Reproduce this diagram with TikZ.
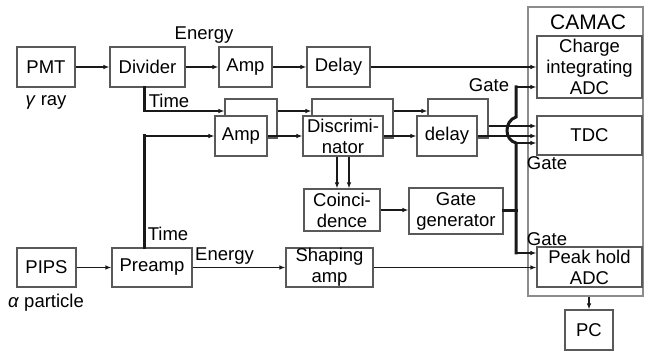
\documentclass[tikz,border=0pt]{standalone}
\usepackage{fontspec}
\setmainfont{Liberation Sans}
\usepackage{tikz}
\usetikzlibrary{
    positioning, % relative placement
    arrows.meta  % modern arrow tips
}
\tikzset{>={Latex[length=6pt,width=4.5pt]}}
\tikzset{
  blk/.style={draw=black!65, line width=1.1pt, fill=white, align=center,
    inner sep=0pt, minimum height=40pt, font=\fontsize{18.5}{21}\selectfont},
  lbl/.style={inner sep=0pt, font=\fontsize{18.5}{21}\selectfont},
  sig/.style={->, line width=1.6pt, black!90},
  bus/.style={line width=3pt, black!90, line cap=rect}
}

\begin{document}
\begin{tikzpicture}[x=1pt,y=-1pt]
  \useasboundingbox (0,0) rectangle (645,352);

  % ===================== CAMAC CRATE =====================
  \node[draw=black!45, line width=1.1pt, minimum width=115pt, minimum height=289pt] (camac) at (585.5,151.5) {};
  \node[lbl, font=\fontsize{21}{24}\selectfont] (camacT) at (588,22) {CAMAC};
  \node[blk, minimum width=105pt, minimum height=62pt] (cadc) at (589.5,67) {Charge\\integrating\\ADC};
  \node[blk, minimum width=105pt, minimum height=39pt] (tdc) at (589.5,135.5) {TDC};
  \node[blk, minimum width=105pt] (peak) at (589.5,267) {Peak hold\\ADC};
  \node[blk, minimum width=48pt] (pc) at (589,330) {PC};

  % ===================== GAMMA BRANCH =====================
  \node[blk, minimum width=58pt] (pmt) at (46,67) {PMT};
  \node[blk, minimum width=75pt] (divider) at (147.5,67) {Divider};
  \node[blk, minimum width=53pt] (ampE) at (245.5,67) {Amp};
  \node[blk, minimum width=63pt] (delayE) at (338.5,67) {Delay};
  \node[lbl] (gamma) at (46,102) {\textit{γ} ray};
  \node[lbl] (energyG) at (204,35) {Energy};
  \node[lbl] (timeG) at (169,101) {Time};

  % stacked timing boxes: back one first, front one over it
  \node[blk, minimum width=52pt, minimum height=39pt] (ampB) at (251,118.5) {};
  \node[blk, minimum width=52pt] (amp) at (241,136) {Amp};
  \node[blk, minimum width=81pt, minimum height=39pt] (discB) at (352.5,118.5) {};
  \node[blk, minimum width=80pt] (disc) at (343,136) {Discrimi-\\nator};
  \node[blk, minimum width=60pt, minimum height=39pt] (delayB) at (458,118.5) {};
  \node[blk, minimum width=60pt] (delay) at (447,136) {delay};

  \node[blk, minimum width=76pt, minimum height=42pt] (coinc) at (342,210) {Coinci-\\dence};
  \node[blk, minimum width=94pt, minimum height=46pt] (gategen) at (456,211) {Gate\\generator};

  % ===================== ALPHA BRANCH =====================
  \node[blk, minimum width=59pt, minimum height=39pt] (pips) at (46.5,267.5) {PIPS};
  \node[blk, minimum width=80pt, minimum height=39pt] (preamp) at (152,267.5) {Preamp};
  \node[blk, minimum width=87pt, minimum height=39pt] (shaping) at (329.5,267.5) {Shaping\\amp};
  \node[lbl] (alpha) at (46,303) {\textit{α} particle};
  \node[lbl] (timeA) at (168,234) {Time};
  \node[lbl] (energyA) at (224.5,256) {Energy};

  % gate labels
  \node[lbl] (gate1) at (489,85) {Gate};
  \node[lbl] (gate2) at (547,163) {Gate};
  \node[lbl] (gate3) at (547,239) {Gate};

  % ===================== CONNECTIONS =====================
  \draw[sig] (pmt) -- (divider);
  \draw[sig] (divider) -- (ampE);
  \draw[sig] (ampE) -- (delayE);
  \draw[sig] (delayE) -- (cadc);

  % time signals into the stacked chain
  \coordinate (tG) at (144,111);
  \coordinate (tA) at (144,136);
  \draw[bus] (divider.south -| tG) -- (tG);
  \draw[sig] (tG) -- (tG -| ampB.west);
  \draw[bus] (preamp.north -| tA) -- (tA);
  \draw[sig] (tA) -- (tA -| amp.west);

  \draw[sig] ([yshift=7.5pt]ampB.east) -- ([yshift=7.5pt]discB.west);
  \draw[sig] ([yshift=7.5pt]discB.east) -- ([yshift=7.5pt]delayB.west);
  \draw[sig] (amp) -- (disc);
  \draw[sig] (disc) -- (delay);
  \draw[sig] ([yshift=-7.5pt]delayB.east) -- ([yshift=-7.5pt]delayB.east -| tdc.west);
  \draw[sig] (delay.east) -- (delay.east -| tdc.west);

  \draw[sig] ([xshift=-6pt]disc.south) -- ([xshift=-6pt]disc.south |- coinc.north);
  \draw[sig] ([xshift=6pt]disc.south) -- ([xshift=6pt]disc.south |- coinc.north);
  \draw[sig] (coinc.east) -- (coinc.east -| gategen.west);

  % gate bus, hopping over the delay lines
  \coordinate (gJ) at (516,211);
  \coordinate (gTop) at (516,87);
  \coordinate (gHi) at (516,117);
  \coordinate (gLo) at (516,143);
  \coordinate (gBot) at (516,253);
  \draw[bus] (gategen.east) -- (gJ);
  \draw[bus] (gBot) -- (gLo) .. controls (504,140) and (504,121) .. (gHi) -- (gTop);
  \draw[sig] (gTop) -- (gTop -| cadc.west);
  \draw[sig] (gLo) -- (gLo -| tdc.west);
  \draw[sig] (gBot) -- (gBot -| peak.west);

  \draw[sig] (pips) -- (preamp);
  \draw[sig] (preamp) -- (shaping);
  \draw[sig] (shaping.east) -- (shaping.east -| peak.west);
  \draw[sig] (camac.south -| pc.north) -- (pc.north);
\end{tikzpicture}
\end{document}
